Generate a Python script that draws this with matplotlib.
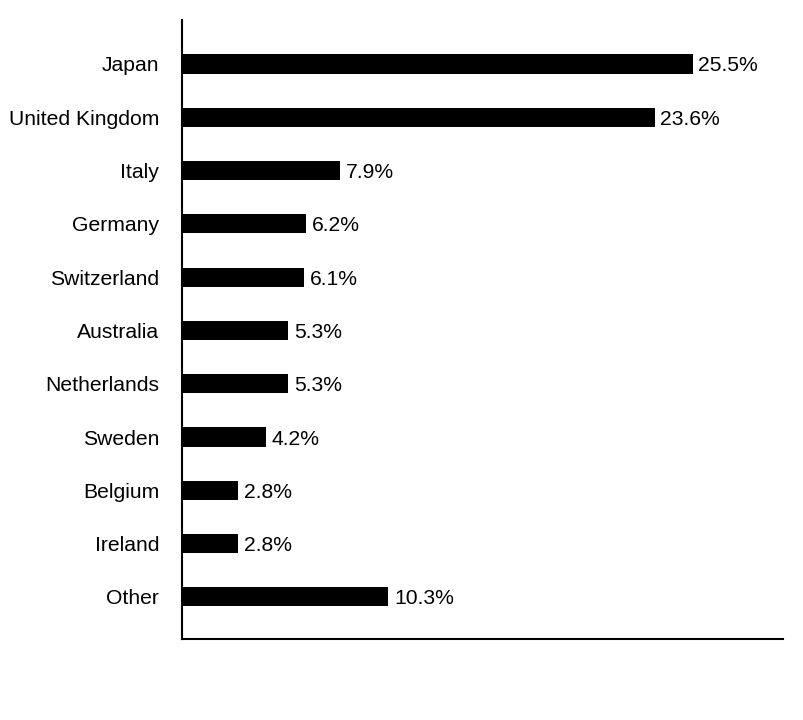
import matplotlib
matplotlib.use("Agg")
import matplotlib.pyplot as plt
import numpy as np

countries = ['Japan', 'United Kingdom', 'Italy', 'Germany', 'Switzerland',
             'Australia', 'Netherlands', 'Sweden', 'Belgium', 'Ireland', 'Other']
weights = [25.5, 23.6, 7.9, 6.2, 6.1, 5.3, 5.3, 4.2, 2.8, 2.8, 10.3]

plt.rcParams['font.family'] = ['Liberation Sans', 'DejaVu Sans']

fig = plt.figure(figsize=(8.04, 7.2), dpi=100)
# axes box in pixels: left 182, right 783, top 20, bottom 639
ax = fig.add_axes([182 / 804, 1 - 639 / 720, (783 - 182) / 804, (639 - 20) / 720])

y = np.arange(len(countries))
ax.barh(y, weights, height=0.36, color='black')

for yi, w in zip(y, weights):
    ax.annotate(f'{w:.1f}%', (w, yi), xytext=(4, 0), textcoords='offset points',
                ha='left', va='center_baseline', fontsize=15.2)

ax.set_xlim(0, 30)
ax.set_ylim(10.79, -0.825)
ax.set_yticks(y, labels=countries, fontsize=15.2)
ax.set_xticks([])
ax.tick_params(axis='y', length=0, pad=16.5)

for s in ['top', 'right']:
    ax.spines[s].set_visible(False)
for s in ['left', 'bottom']:
    ax.spines[s].set_linewidth(1.5)

fig.savefig('out.png', dpi=100)
